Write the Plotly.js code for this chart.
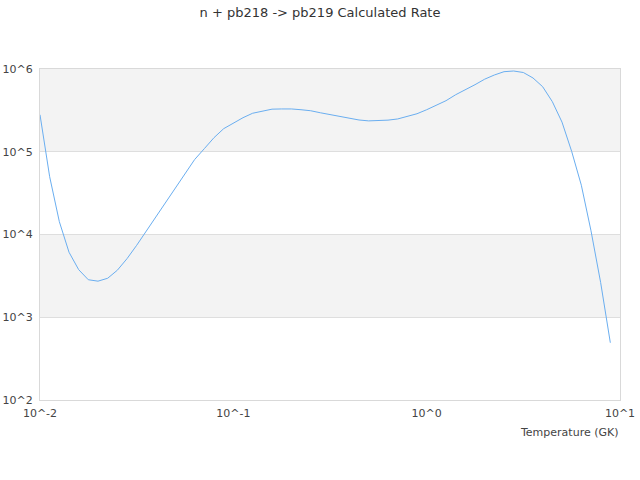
<!DOCTYPE html>
<html>
<head>
<meta charset="utf-8">
<script src="https://cdn.plot.ly/plotly-3.0.1.min.js"></script>
<style>html,body{margin:0;padding:0;background:#fff;}#chart{width:640px;height:480px;}</style>
</head>
<body>
<div id="chart"></div>
<script>
var temperature = [0.01, 0.01122, 0.01259, 0.01413, 0.01585, 0.01778, 0.01995, 0.02239, 0.02512, 0.02818,
  0.03162, 0.03548, 0.03981, 0.04467, 0.05012, 0.05623, 0.0631, 0.07079, 0.07943, 0.08913,
  0.1, 0.1122, 0.1259, 0.1413, 0.1585, 0.1778, 0.1995, 0.2239, 0.2512, 0.2818,
  0.3162, 0.3548, 0.3981, 0.4467, 0.5012, 0.5623, 0.631, 0.7079, 0.7943, 0.8913,
  1, 1.122, 1.259, 1.413, 1.585, 1.778, 1.995, 2.239, 2.512, 2.818,
  3.162, 3.548, 3.981, 4.467, 5.012, 5.623, 6.31, 7.079, 7.943, 8.913];
var rate = [2.8e5, 4.99e4, 1.43e4, 6.1e3, 3.76e3, 2.84e3, 2.73e3, 2.96e3, 3.7e3, 5.1e3,
  7.4e3, 1.1e4, 1.69e4, 2.52e4, 3.72e4, 5.5e4, 8.06e4, 1.09e5, 1.48e5, 1.9e5,
  2.24e5, 2.58e5, 2.92e5, 3.1e5, 3.27e5, 3.29e5, 3.29e5, 3.22e5, 3.13e5, 2.96e5,
  2.8e5, 2.65e5, 2.51e5, 2.42e5, 2.36e5, 2.36e5, 2.41e5, 2.49e5, 2.65e5, 2.88e5,
  3.22e5, 3.65e5, 4.14e5, 4.89e5, 5.57e5, 6.46e5, 7.53e5, 8.46e5, 9.28e5, 9.46e5,
  9.07e5, 7.79e5, 6.11e5, 4.03e5, 2.28e5, 1.01e5, 3.94e4, 1.11e4, 2.62e3, 492];
var xTickVals = [0.01, 0.1, 1, 10];
var xTickText = ["10^-2", "10^-1", "10^0", "10^1"];
var yTickVals = [100, 1000, 10000, 100000, 1000000];
var yTickText = ["10^2", "10^3", "10^4", "10^5", "10^6"];
var bandRanges = [[1000, 10000], [100000, 1000000]];

var shapes = bandRanges.map(function(b){
  return {type:'rect', xref:'paper', yref:'y', x0:0, x1:1, y0:b[0], y1:b[1],
    fillcolor:'#f3f3f3', line:{width:0}, layer:'below'};
});

var trace = {x: temperature, y: rate, type:'scatter', mode:'lines',
  line:{color:'#6aaef0', width:1}, hoverinfo:'x+y'};

var fontFam = 'DejaVu Sans, sans-serif';
var layout = {
  width:640, height:480,
  margin:{l:40, r:20, t:69, b:80},
  paper_bgcolor:'#fff', plot_bgcolor:'#fff',
  title:{text:'n + pb218 -> pb219 Calculated Rate', font:{family:fontFam, size:13, color:'#333'}, x:0.5, xanchor:'center', y:0.975, yanchor:'middle'},
  showlegend:false,
  font:{family:fontFam, size:11, color:'#444'},
  xaxis:{type:'log', range:[-2,1], tickvals:xTickVals, ticktext:xTickText, showgrid:false, zeroline:false,
    showline:true, mirror:true, linecolor:'#d9d9d9', linewidth:1, ticks:'', ticklabelstandoff:3,
    tickfont:{family:fontFam, size:11, color:'#444'}},
  yaxis:{type:'log', range:[2,6], tickvals:yTickVals, ticktext:yTickText, showgrid:true, gridcolor:'#dedede', zeroline:false,
    showline:true, mirror:true, linecolor:'#d9d9d9', linewidth:1, ticks:'', ticklabelstandoff:4,
    tickfont:{family:fontFam, size:11, color:'#444'}},
  shapes: shapes,
  annotations:[{text:'Temperature (GK)', xref:'paper', yref:'paper', x:1, y:0, xanchor:'right', yanchor:'top', yshift:-24, xshift:1,
    showarrow:false, font:{family:fontFam, size:11, color:'#444'}}]
};
Plotly.newPlot('chart', [trace], layout, {staticPlot:true, displayModeBar:false});
</script>
</body>
</html>
